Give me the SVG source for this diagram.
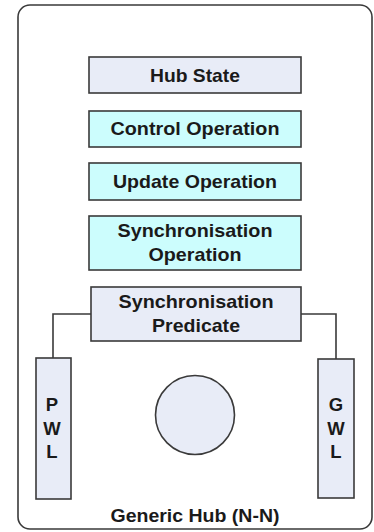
<svg xmlns="http://www.w3.org/2000/svg" width="374" height="532" viewBox="0 0 374 532">
<style>
.box{stroke:#3a3a3a;stroke-width:1.6}
.lav{fill:#e8ecf7}
.cyan{fill:#ccfdfd}
.t{font-family:"Liberation Sans",Arial,sans-serif;font-weight:bold;font-size:18.5px;fill:#1a1a1a;text-anchor:middle}
.c{fill:none;stroke:#3a3a3a;stroke-width:1.6}
</style>
<rect id="hub" x="18" y="5" width="354" height="524" rx="12" fill="#fff" stroke="#3a3a3a" stroke-width="1.6"/>
<g id="connectors">
<polyline class="c" points="91,314 53,314 53,358"/>
<polyline class="c" points="301,314 336,314 336,359"/>
</g>
<g id="hub-state"><rect class="box lav" x="89" y="57" width="212" height="36"/><text class="t" x="195" y="81.5" textLength="90" lengthAdjust="spacingAndGlyphs">Hub State</text></g>
<g id="control-operation"><rect class="box cyan" x="89" y="111" width="212" height="36"/><text class="t" x="195" y="135" textLength="169" lengthAdjust="spacingAndGlyphs">Control Operation</text></g>
<g id="update-operation"><rect class="box cyan" x="89" y="163" width="212" height="37"/><text class="t" x="195" y="188" textLength="164" lengthAdjust="spacingAndGlyphs">Update Operation</text></g>
<g id="sync-operation"><rect class="box cyan" x="89" y="216" width="212" height="54"/><text class="t" x="195" y="237" textLength="155" lengthAdjust="spacingAndGlyphs">Synchronisation</text><text class="t" x="195" y="261" textLength="93" lengthAdjust="spacingAndGlyphs">Operation</text></g>
<g id="sync-predicate"><rect class="box lav" x="91" y="287" width="210" height="54"/><text class="t" x="196" y="308" textLength="155" lengthAdjust="spacingAndGlyphs">Synchronisation</text><text class="t" x="196" y="332" textLength="88" lengthAdjust="spacingAndGlyphs">Predicate</text></g>
<g id="pwl"><rect class="box lav" x="36" y="358" width="35" height="141"/><text class="t" x="52" y="411">P</text><text class="t" x="52" y="435">W</text><text class="t" x="52" y="458">L</text></g>
<g id="gwl"><rect class="box lav" x="318" y="359" width="36" height="139"/><text class="t" x="336" y="411">G</text><text class="t" x="336" y="435">W</text><text class="t" x="336" y="458">L</text></g>
<g id="circle"><circle class="box lav" cx="195" cy="415" r="39.5"/></g>
<text id="hub-label" class="t" x="195" y="522" textLength="169" lengthAdjust="spacingAndGlyphs">Generic Hub (N-N)</text>
</svg>
